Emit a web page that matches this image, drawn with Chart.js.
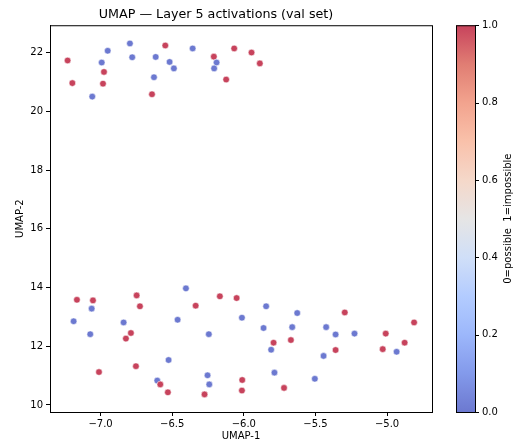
<!DOCTYPE html>
<html><head><meta charset="utf-8">
<script src="https://cdn.jsdelivr.net/npm/chart.js@4/dist/chart.umd.min.js"></script>
<style>html,body{margin:0;padding:0;background:#fff}#wrap{width:516px;height:442px}</style>
</head><body><div id="wrap"><canvas id="c" width="516" height="442"></canvas></div>
<script>
const umap1 = [-7.230,-6.950,-6.795,-6.548,-6.357,-6.992,-6.779,-6.615,-6.518,-6.488,-6.976,-7.197,-6.983,-7.058,-6.627,-6.641,-6.209,-6.190,-6.207,-6.067,-5.946,-5.888,-6.123,
 -7.165,-7.053,-7.062,-7.188,-7.072,-6.748,-6.725,-6.839,-6.788,-6.823,-6.404,-6.336,-6.462,-6.244,-6.167,-6.050,-6.013,-7.011,-6.753,-6.525,-6.604,-6.583,-6.530,-6.253,-6.241,-6.274,-6.011,-6.013,
 -5.844,-5.627,-5.862,-5.662,-5.792,-5.671,-5.809,-5.786,-5.719,-5.504,-5.295,-5.425,-5.359,-5.227,-5.359,-5.443,-5.009,-4.877,-4.811,-5.030,-4.933];
const umap2 = [21.73,22.06,22.31,22.24,22.14,21.66,21.84,21.85,21.68,21.46,21.34,20.96,20.94,20.50,21.16,20.58,21.86,21.66,21.46,22.14,22.00,21.63,21.08,
 13.58,13.56,13.28,12.85,12.41,13.73,13.36,12.81,12.45,12.26,13.97,13.38,12.90,12.41,13.70,13.64,12.97,11.12,11.32,11.53,10.83,10.70,10.43,11.01,10.70,10.36,10.85,10.49,
 13.36,13.13,12.62,12.65,12.12,12.21,11.88,11.10,10.58,10.89,13.15,12.65,12.40,12.43,11.87,11.67,12.43,12.12,12.81,11.90,11.81];
const impossible = [1,0,0,1,0,0,0,0,0,0,1,1,1,0,0,1,1,0,0,1,1,1,1,
 1,1,0,0,0,1,1,0,1,1,0,1,0,0,1,1,0,1,1,0,0,1,1,0,0,1,1,1,
 0,0,0,0,1,1,0,0,1,0,1,0,0,0,1,0,1,1,1,1,0];
const xTicks = [-7.0,-6.5,-6.0,-5.5,-5.0];
const yTicks = [10,12,14,16,18,20,22];
const cbTicks = [0.0,0.2,0.4,0.6,0.8,1.0];

// coolwarm stops
const cw = [[0,[59,76,192]],[0.1,[90,120,228]],[0.2,[123,159,249]],[0.3,[154,187,255]],[0.4,[192,212,245]],[0.5,[221,220,220]],[0.6,[242,203,183]],[0.7,[247,172,142]],[0.8,[238,132,104]],[0.9,[214,82,68]],[1,[180,4,38]]];
function cwColor(t, a){
  for(let i=0;i<cw.length-1;i++){
    const [t0,c0]=cw[i],[t1,c1]=cw[i+1];
    if(t<=t1){const f=(t-t0)/(t1-t0);const c=c0.map((v,k)=>Math.round((v+(c1[k]-v)*f)*a+255*(1-a)));return `rgb(${c[0]},${c[1]},${c[2]})`;}
  }
}
const ALPHA=0.75;
const pts = umap1.map((x,i)=>({x, y: umap2[i]}));
const colors = impossible.map(v=>cwColor(v,ALPHA));
const fmt = v => (Math.abs(v)<1e-9?0:v).toFixed(1).replace('-', '\u2212');

const boxPlugin = {
  id:'box',
  afterDraw(chart){
    const {ctx, chartArea:a} = chart;
    ctx.save();
    ctx.strokeStyle='#000'; ctx.lineWidth=1;
    ctx.strokeRect(a.left+0.5, a.top+0.5, a.right-a.left, a.bottom-a.top);
    // colorbar
    const L=456, R=475, T=a.top, B=a.bottom;
    const g = ctx.createLinearGradient(0,B,0,T);
    for(let i=0;i<=20;i++){const t=i/20; g.addColorStop(t, cwColor(t,ALPHA));}
    ctx.fillStyle=g; ctx.fillRect(L,T,R-L,B-T);
    ctx.strokeRect(L+0.5,T+0.5,R-L,B-T);
    ctx.fillStyle='#000'; ctx.font='10px "DejaVu Sans"'; ctx.textBaseline='middle'; ctx.textAlign='left';
    cbTicks.forEach(v=>{
      const y = B - v*(B-T);
      ctx.beginPath(); ctx.moveTo(R,Math.round(y)+0.5); ctx.lineTo(R+4,Math.round(y)+0.5); ctx.stroke();
      ctx.fillText(v.toFixed(1), R+7, y);
    });
    ctx.translate(508,(T+B)/2); ctx.rotate(-Math.PI/2); ctx.textAlign='center';
    ctx.fillText('0=possible  1=impossible',0,0);
    ctx.restore();
  }
};

new Chart(document.getElementById('c'),{
  type:'scatter',
  data:{datasets:[{data:pts, backgroundColor:colors, borderColor:'rgba(255,255,255,0.9)', borderWidth:0.6, pointRadius:3.3, pointHoverRadius:3.3}]},
  options:{
    responsive:false, animation:false, devicePixelRatio:1,
    layout:{padding:{left:0,right:84,top:0,bottom:0}},
    plugins:{legend:{display:false}, tooltip:{enabled:false},
      title:{display:true, text:'UMAP \u2014 Layer 5 activations (val set)', color:'#000', font:{family:'DejaVu Sans', size:12.7, weight:'normal'}, padding:{top:7,bottom:3}}},
    scales:{
      x:{type:'linear', min:-7.353, max:-4.686,
        afterBuildTicks:s=>{s.ticks=xTicks.map(v=>({value:v}));},
        afterFit:s=>{s.height=30;},
        ticks:{callback:v=>fmt(v), color:'#000', font:{family:'DejaVu Sans',size:10}, padding:2, maxRotation:0, autoSkip:false},
        grid:{drawOnChartArea:false, drawTicks:true, tickLength:4, color:'#000'},
        border:{display:true,color:'#000'},
        title:{display:true,text:'UMAP-1',color:'#000',font:{family:'DejaVu Sans',size:10},padding:{top:0,bottom:0}}},
      y:{type:'linear', min:9.76, max:22.93,
        afterBuildTicks:s=>{s.ticks=yTicks.map(v=>({value:v}));},
        afterFit:s=>{s.width=50;},
        ticks:{callback:v=>String(v), color:'#000', font:{family:'DejaVu Sans',size:10}, padding:3, autoSkip:false},
        grid:{drawOnChartArea:false, drawTicks:true, tickLength:4, color:'#000'},
        border:{display:true,color:'#000'},
        title:{display:true,text:'UMAP-2',color:'#000',font:{family:'DejaVu Sans',size:10},padding:{top:14,bottom:0}}}
    }
  },
  plugins:[boxPlugin]
});
</script></body></html>
